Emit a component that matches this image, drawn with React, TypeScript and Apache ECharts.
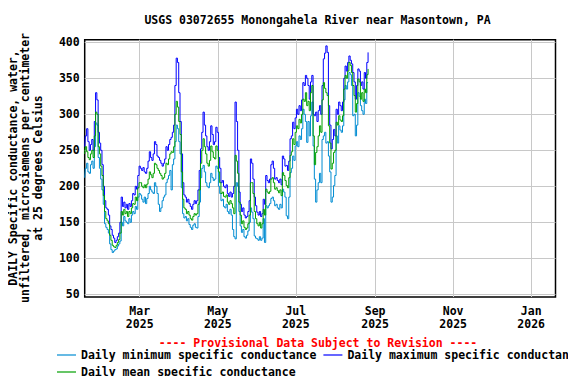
import React, { useEffect, useRef } from "react";
import * as echarts from "echarts";

// ---------- data ----------
const START_DATE = "2025-01-17"; // first day of the axis and of the data
const AXIS_DAY_COUNT = 369; // Jan 17 2025 .. Jan 20 2026

const TICK_DATES = ["2025-03-01", "2025-05-01", "2025-07-01", "2025-09-01", "2025-11-01", "2026-01-01"];
const TICK_LABELS = ["Mar\n2025", "May\n2025", "Jul\n2025", "Sep\n2025", "Nov\n2025", "Jan\n2026"];

const Y_MIN = 50;
const Y_MAX = 400;
const Y_STEP = 50;

const SERIES_NAMES = [
  "Daily minimum specific conductance",
  "Daily maximum specific conductance",
  "Daily mean specific conductance",
];

const maxVals = [
  255, 270, 280, 262, 250, 258, 265, 250, 290, 330,
  320, 275, 260, 250, 230, 200, 180, 170, 168, 160,
  145, 140, 132, 128, 122, 125, 130, 135, 150, 185,
  172, 178, 170, 175, 168, 176, 172, 180, 190, 188,
  200, 196, 215, 228, 225, 222, 226, 220, 218, 225,
  235, 248, 240, 236, 245, 262, 258, 242, 240, 236,
  232, 228, 232, 238, 255, 250, 258, 265, 268, 275,
  285, 340, 378, 372, 330, 290, 245, 205, 188, 185,
  178, 182, 176, 172, 168, 175, 180, 176, 180, 195,
  222, 252, 275, 303, 285, 270, 255, 250, 262, 284,
  272, 258, 262, 282, 275, 240, 225, 205, 208, 200,
  198, 202, 190, 186, 192, 185, 190, 200, 317, 290,
  250, 192, 175, 165, 170, 160, 156, 158, 165, 180,
  238, 232, 210, 185, 173, 164, 160, 165, 158, 162,
  182, 175, 215, 208, 205, 210, 230, 235, 225, 210,
  212, 208, 205, 210, 202, 242, 238, 228, 229, 222,
  235, 266, 270, 289, 280, 295, 307, 300, 312, 305,
  320, 344, 340, 354, 350, 340, 321, 345, 354, 300,
  298, 303, 290, 305, 312, 300, 340, 377, 385, 395,
  386, 312, 285, 252, 265, 279, 270, 307, 300, 317,
  312, 305, 317, 350, 367, 360, 372, 381, 375, 370,
  358, 345, 321, 340, 363, 360, 340, 345, 335, 358,
  350, 372, 386,
];

const meanVals = [
  245, 255, 248, 240, 237, 245, 250, 240, 270, 303,
  300, 255, 245, 228, 215, 187, 165, 155, 152, 148,
  132, 125, 118, 116, 115, 118, 122, 126, 135, 165,
  160, 168, 162, 165, 158, 165, 162, 170, 176, 175,
  185, 180, 198, 205, 205, 200, 198, 202, 198, 203,
  210, 220, 216, 212, 218, 232, 230, 225, 222, 218,
  215, 210, 212, 218, 232, 230, 238, 245, 248, 247,
  255, 300, 318, 310, 290, 272, 220, 182, 170, 168,
  162, 165, 160, 155, 153, 158, 162, 160, 162, 175,
  195, 232, 250, 266, 255, 245, 232, 228, 236, 256,
  248, 240, 238, 256, 250, 220, 205, 190, 192, 186,
  185, 188, 178, 175, 180, 176, 170, 162, 243, 235,
  218, 178, 160, 148, 152, 143, 140, 142, 148, 160,
  205, 205, 190, 165, 155, 148, 145, 150, 142, 148,
  168, 160, 196, 192, 190, 193, 210, 212, 205, 196,
  198, 194, 191, 195, 187, 219, 215, 208, 201, 198,
  212, 243, 248, 266, 258, 275, 284, 280, 293, 288,
  300, 321, 318, 330, 312, 318, 305, 330, 340, 270,
  230, 247, 255, 270, 284, 275, 320, 344, 336, 330,
  326, 284, 260, 224, 232, 247, 250, 289, 285, 298,
  292, 290, 298, 335, 354, 350, 360, 372, 368, 358,
  340, 326, 303, 315, 349, 345, 321, 330, 318, 335,
  330, 355, 363,
];

const minVals = [
  212, 225, 232, 220, 218, 230, 235, 225, 255, 288,
  285, 240, 225, 210, 195, 175, 148, 143, 140, 135,
  120, 112, 108, 110, 112, 113, 117, 120, 124, 150,
  145, 158, 152, 150, 148, 155, 150, 160, 165, 162,
  172, 168, 185, 190, 188, 182, 178, 185, 176, 183,
  190, 200, 195, 192, 190, 205, 200, 190, 175, 165,
  170, 180, 185, 188, 205, 210, 215, 222, 195, 230,
  238, 262, 285, 280, 262, 245, 198, 162, 156, 158,
  152, 155, 147, 143, 140, 146, 148, 143, 142, 158,
  178, 212, 225, 229, 220, 205, 200, 198, 205, 218,
  212, 208, 210, 228, 225, 200, 190, 180, 182, 172,
  170, 175, 165, 162, 168, 160, 140, 130, 127, 205,
  200, 165, 145, 136, 140, 130, 128, 132, 138, 150,
  170, 164, 155, 131, 128, 127, 125, 130, 125, 128,
  155, 122, 173, 170, 173, 176, 183, 185, 180, 173,
  175, 170, 168, 175, 170, 196, 192, 185, 159, 155,
  185, 219, 225, 242, 236, 256, 262, 255, 270, 265,
  280, 307, 300, 290, 261, 290, 270, 298, 317, 256,
  210, 178, 195, 205, 218, 205, 265, 270, 275, 260,
  262, 242, 220, 178, 185, 201, 215, 270, 260, 284,
  278, 275, 284, 320, 340, 335, 345, 358, 355, 340,
  298, 300, 270, 285, 330, 325, 312, 305, 300, 321,
  315, 344, 344,
];

const TITLE = "USGS 03072655 Monongahela River near Masontown, PA";
const Y_TITLE = "DAILY Specific conductance, water,\nunfiltered, microsiemens per centimeter\nat 25 degrees Celsius";
const PROVISIONAL = "---- Provisional Data Subject to Revision ----";

// ---------- helpers ----------
function buildDays(start: string, count: number): string[] {
  const t0 = Date.parse(start + "T00:00:00Z");
  const out: string[] = [];
  for (let i = 0; i < count; i++) {
    out.push(new Date(t0 + i * 86400000).toISOString().slice(0, 10));
  }
  return out;
}

const FONT = "'DejaVu Sans Mono', monospace";
const FS = 11.5;

export default function App() {
  const ref = useRef<HTMLDivElement>(null);

  useEffect(() => {
    if (!ref.current) return;
    const chart = echarts.init(ref.current, undefined, { renderer: "svg" });
    const days = buildDays(START_DATE, AXIS_DAY_COUNT);
    const isTick = (_i: number, v: string) => TICK_DATES.indexOf(v) >= 0;
    const labelOf = (v: string) => {
      const k = TICK_DATES.indexOf(v);
      return k >= 0 ? TICK_LABELS[k] : "";
    };
    const colors = ["#008cd2", "#0000ff", "#00a000"];
    const vals = [minVals, maxVals, meanVals];

    const left = 84.7;
    const right = 576 - 555.5;
    const legendText = { color: "#000", fontFamily: FONT, fontWeight: "bold", fontSize: FS };

    chart.setOption({
      animation: false,
      backgroundColor: "#ffffff",
      textStyle: { fontFamily: FONT },
      grid: [
        {
          left,
          right,
          top: 39.7,
          bottom: 384 - 297,
          show: true,
          borderColor: "#000",
          borderWidth: 1.5,
          backgroundColor: "transparent",
          containLabel: false,
        },
        {
          left,
          right,
          top: 42.3,
          bottom: 384 - 294.3,
          containLabel: false,
        },
      ],
      xAxis: [
        {
          type: "category",
          gridIndex: 0,
          data: days,
          boundaryGap: false,
          axisLine: { show: false },
          axisTick: { show: false },
          axisLabel: {
            interval: isTick,
            formatter: labelOf,
            color: "#000",
            fontFamily: FONT,
            fontWeight: "bold",
            fontSize: FS,
            lineHeight: 13.5,
            margin: 7,
          },
          splitLine: {
            show: true,
            interval: isTick,
            lineStyle: { color: "#c8c8c8", width: 1 },
          },
        },
        {
          type: "category",
          gridIndex: 1,
          data: days,
          boundaryGap: false,
          show: false,
        },
      ],
      yAxis: [
        { type: "value", gridIndex: 0, min: 0, max: 1, show: false },
        {
          type: "value",
          gridIndex: 1,
          min: Y_MIN,
          max: Y_MAX,
          interval: Y_STEP,
          axisLine: { show: false },
          axisTick: { show: false },
          axisLabel: {
            color: "#000",
            fontFamily: FONT,
            fontWeight: "bold",
            fontSize: FS,
            margin: 5,
          },
          splitLine: { show: true, lineStyle: { color: "#c8c8c8", width: 1 } },
        },
      ],
      legend: [
        {
          data: [SERIES_NAMES[0], SERIES_NAMES[1]],
          left: 57,
          top: 349,
          width: 1200,
          padding: 0,
          icon: "rect",
          itemWidth: 19,
          itemHeight: 1.2,
          itemGap: 7,
          textStyle: legendText,
        },
        {
          data: [SERIES_NAMES[2]],
          left: 57,
          top: 366,
          width: 1200,
          padding: 0,
          icon: "rect",
          itemWidth: 19,
          itemHeight: 1.2,
          itemGap: 7,
          textStyle: legendText,
        },
      ],
      series: SERIES_NAMES.map((name, i) => ({
        name,
        type: "line",
        xAxisIndex: 1,
        yAxisIndex: 1,
        data: vals[i],
        step: "middle",
        symbol: "none",
        color: colors[i],
        lineStyle: { color: colors[i], width: 1 },
        z: 3 + i,
      })),
      graphic: [
        {
          type: "text",
          x: 317.5,
          y: 20,
          style: {
            text: TITLE,
            fill: "#000",
            font: `bold ${FS}px ${FONT}`,
            align: "center",
            verticalAlign: "middle",
          },
        },
        {
          type: "text",
          x: 318,
          y: 343,
          style: {
            text: PROVISIONAL,
            fill: "#ff0000",
            font: `bold ${FS}px ${FONT}`,
            align: "center",
            verticalAlign: "middle",
          },
        },
        {
          type: "text",
          x: 25,
          y: 168,
          rotation: Math.PI / 2,
          style: {
            text: Y_TITLE,
            fill: "#000",
            font: `bold ${FS}px ${FONT}`,
            lineHeight: 12.5,
            align: "center",
            verticalAlign: "middle",
          },
        },
      ],
    });
    return () => chart.dispose();
  }, []);

  return <div ref={ref} style={{ width: 576, height: 384, margin: -8 }} />;
}
